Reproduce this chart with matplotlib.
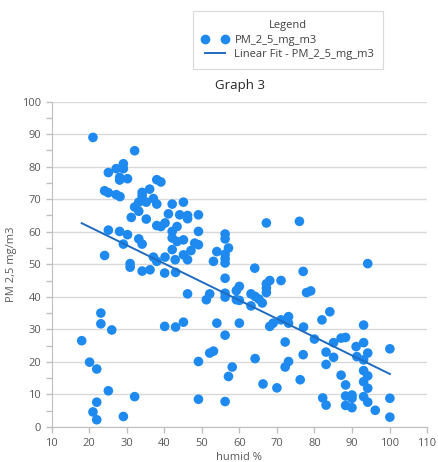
import numpy as np
import matplotlib
matplotlib.use("Agg")
import matplotlib.pyplot as plt
from matplotlib.ticker import MultipleLocator
from matplotlib.lines import Line2D

plt.rcParams['font.family'] = ['Open Sans', 'DejaVu Sans']

humid = [21.0, 32.1, 29.1, 27.2, 29.1, 25.1, 28.1, 28.1, 30.2, 24.1, 25.1, 27.2, 28.2,
         38.0, 39.1, 36.1, 34.1, 34.1, 37.1, 33.2, 35.2, 32.1, 33.2, 38.0, 31.2, 35.2,
         41.1, 42.1, 38.0, 39.1, 40.2, 43.4, 42.1, 42.1, 43.4, 25.1, 28.1, 30.2, 29.1,
         33.2, 34.1, 24.1, 37.1, 38.0, 40.2, 42.1, 42.9,
         30.9, 30.9, 34.1, 36.2, 40.1, 43.0, 23.1, 23.1, 26.0, 18.0, 20.1, 22.0, 25.1,
         32.1, 22.0, 21.0, 22.0, 29.1, 40.1, 43.0,
         45.1, 44.1, 46.2, 46.2, 49.1, 45.1, 49.1, 48.1, 49.1, 47.1, 45.1, 46.2, 56.2,
         56.2, 57.1, 54.0, 56.2, 56.2, 56.2, 53.1, 64.1, 67.2, 76.0,
         56.2, 46.2, 52.1, 51.2, 56.2, 56.2, 59.2, 60.0, 59.2, 60.0, 63.1, 64.2, 65.2,
         66.1, 63.1, 67.2, 67.2, 67.2, 68.1, 71.1, 77.0, 45.1, 54.0, 60.0, 56.2, 68.1,
         69.0, 71.1, 73.1, 73.1, 72.2, 52.1, 53.1, 49.1, 64.2, 73.1, 72.2, 58.1, 57.1,
         66.3, 70.0, 76.2, 49.1, 56.2, 77.0,
         94.2, 77.9, 79.0, 84.1, 82.0, 77.1, 80.0, 87.1, 88.3, 85.1, 93.1, 93.1, 91.1,
         100.1, 94.2, 91.3, 93.1, 83.1, 85.1, 83.1, 93.1, 94.2, 93.1, 87.1, 88.3, 94.2,
         82.2, 83.1, 88.3, 88.3, 90.0, 90.0, 90.0, 93.1, 94.2, 96.2, 100.1, 100.1]

pm25 = [89.0, 84.9, 80.9, 79.4, 79.4, 78.2, 76.7, 75.9, 76.3, 72.6, 72.0, 71.4, 70.8,
        76.0, 75.3, 73.1, 72.1, 71.1, 70.2, 69.1, 69.1, 67.6, 66.3, 68.5, 64.4, 63.9,
        65.5, 68.5, 61.9, 61.6, 62.7, 61.6, 60.1, 58.1, 57.0, 60.5, 60.1, 59.1, 56.2,
        57.8, 56.2, 52.7, 52.2, 50.9, 52.2, 54.5, 51.4,
        50.2, 49.1, 47.9, 48.3, 47.3, 47.5, 35.0, 31.7, 29.8, 26.5, 19.9, 17.8, 11.1,
        9.3, 7.6, 4.6, 2.2, 3.2, 30.9, 30.7,
        69.1, 65.2, 65.0, 64.0, 65.2, 57.5, 60.1, 56.5, 56.0, 54.2, 52.9, 51.4, 59.3,
        57.8, 55.0, 53.9, 53.1, 51.7, 50.4, 50.9, 48.8, 62.7, 63.2,
        45.7, 40.9, 40.9, 39.1, 41.1, 39.9, 41.9, 43.2, 39.1, 38.9, 40.9, 40.1, 39.3,
        38.1, 37.2, 41.3, 42.7, 44.0, 45.0, 45.0, 47.8, 32.2, 31.9, 31.9, 28.2, 30.9,
        31.9, 32.9, 33.9, 31.9, 26.1, 22.7, 23.3, 20.1, 21.0, 20.1, 18.4, 18.4, 15.5,
        13.2, 12.0, 14.5, 8.5, 7.8, 22.2,
        50.2, 41.3, 41.8, 35.4, 32.9, 30.7, 27.0, 27.3, 27.5, 25.9, 31.3, 25.9, 24.7,
        24.0, 22.7, 21.6, 20.6, 23.0, 21.4, 19.2, 17.3, 15.7, 13.9, 15.9, 12.9, 11.9,
        8.9, 6.7, 9.5, 6.6, 9.8, 8.8, 5.9, 9.3, 7.6, 5.1, 8.8, 3.0]

x = np.array(humid)
y = np.array(pm25)
slope, intercept = np.polyfit(x, y, 1)
fit_x = np.array([x.min(), x.max()])
fit_y = slope * fit_x + intercept

dot_color = '#1e8af0'
line_color = '#1f6bbf'
text_color = '#595959'
grid_color = '#d9d9d9'

fig = plt.figure(figsize=(4.38, 4.62), dpi=100)
ax = fig.add_axes([0.118, 0.076, 0.857, 0.704])

ax.scatter(x, y, s=48, color=dot_color, edgecolors='none', zorder=3)
ax.plot(fit_x, fit_y, color=line_color, lw=1.4, zorder=4)

ax.set_xlim(10, 110)
ax.set_ylim(0, 100)
ax.xaxis.set_major_locator(MultipleLocator(10))
ax.yaxis.set_major_locator(MultipleLocator(10))
ax.yaxis.set_minor_locator(MultipleLocator(5))
ax.grid(axis='y', which='major', color=grid_color, lw=1.0, zorder=0)
for s in ['top', 'right']:
    ax.spines[s].set_visible(False)
for s in ['left', 'bottom']:
    ax.spines[s].set_color('#bfbfbf')
ax.tick_params(axis='both', which='both', colors='#bfbfbf', labelcolor=text_color,
               labelsize=8, length=4, width=1)
ax.tick_params(axis='x', pad=4)
ax.set_xlabel('humid %', fontsize=8, color=text_color, labelpad=2)
ax.set_ylabel('PM 2,5 mg/m3', fontsize=8, color=text_color, labelpad=4)

fig.text(0.548, 0.815, 'Graph 3', fontsize=9.5, color='#262626', ha='center', va='center')

handles = [Line2D([0], [0], marker='o', color='none', markerfacecolor=dot_color,
                  markeredgecolor='none', markersize=7),
           Line2D([0], [0], color=line_color, lw=1.4)]
leg = fig.legend(handles, ['PM_2_5_mg_m3', 'Linear Fit - PM_2_5_mg_m3'],
                 title='Legend', loc='center', bbox_to_anchor=(0.658, 0.913),
                 fontsize=8, title_fontsize=8, frameon=True, fancybox=False,
                 numpoints=2, handlelength=2.4, handletextpad=0.5, borderpad=0.8,
                 borderaxespad=0, labelspacing=0.3, edgecolor='#d0d0d0')
leg.get_frame().set_linewidth(0.8)
for t in leg.get_texts():
    t.set_color('#404040')
leg.get_title().set_color('#404040')

fig.savefig('out.png', dpi=100)
